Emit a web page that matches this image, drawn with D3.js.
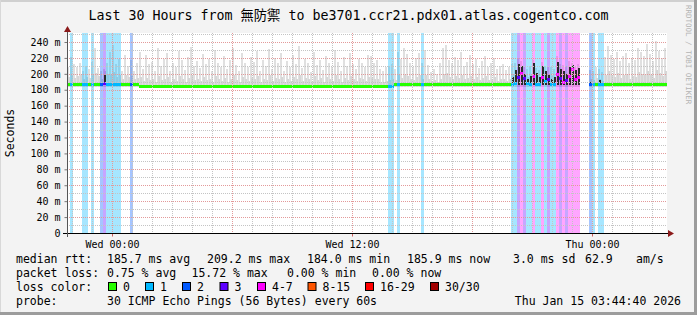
<!DOCTYPE html>
<html>
<head>
<meta charset="utf-8">
<script src="https://cdn.jsdelivr.net/npm/d3@7"></script>
<style>
  body { margin: 0; background: #f3f3f3; }
  svg { display: block; }
  text { font-family: "DejaVu Sans Mono", "Noto Sans CJK TC", monospace; fill: #000; }
</style>
</head>
<body>
<div id="chart"></div>
<script>
'use strict'

// ---- data ----
const title = "Last 30 Hours from 無防禦 to be3701.ccr21.pdx01.atlas.cogentco.com"
const timeStart = new Date(2026, 0, 13, 21, 45)
const timeEnd = new Date(2026, 0, 15, 3, 45)
const slotMinutes = 9          // one value every 9 minutes, 200 slots
const rttMin = 184.0

const yTicks = [0, 20, 40, 60, 80, 100, 120, 140, 160, 180, 200, 220, 240]
const yMinorTicks = [10, 30, 50, 70, 90, 110, 130, 150, 170, 190, 210, 230, 250]

// median rtt (ms) per slot
const medianRtt = [
  187,187,187,187,187,187,187,187,187,187,
  187,187,188,187,187,187,187,187,187,187,
  187,187,187,187,184.5,184.5,184.5,184.5,184.5,184.5,
  184.5,184.5,184.5,184.5,184.5,184.5,184.5,184.5,184.5,184.5,
  184.5,184.5,184.5,184.5,184.5,184.5,184.5,184.5,184.5,184.5,
  184.5,184.5,184.5,184.5,184.5,184.5,184.5,184.5,184.5,184.5,
  184.5,184.5,184.5,184.5,184.5,184.5,184.5,184.5,184.5,184.5,
  184.5,184.5,184.5,184.5,184.5,184.5,184.5,184.5,184.5,184.5,
  184.5,184.5,184.5,184.5,184.5,184.5,184.5,184.5,184.5,184.5,
  184.5,184.5,184.5,184.5,184.5,184.5,184.5,184.5,184.5,184.5,
  184.5,184.5,184.5,184.5,184.5,184.5,184.5,184.5,184.5,186.5,
  186.5,186.5,186.5,186.5,186.5,186.5,186.5,186.5,186.5,186.5,
  186.5,186.5,186.5,186.5,186.5,186.5,186.5,186.5,186.5,186.5,
  186.5,186.5,186.5,186.5,186.5,186.5,186.5,186.5,186.5,186.5,
  186.5,186.5,186.5,186.5,186.5,186.5,186.5,186.5,187,188,
  196,201,194,188,187,197,187,186,195,190,
  193,187,186,199,194,189,192,197,205,193,
  196,null,null,null,187,186,186,186,186,186,
  186,186,186,186,186,186,186,186,186,186,
  186,186,186,186,186,186,186,186,186,186
]

// top of the light smoke (max ping, ms) per slot
const smokeMax = [
  209,221,212,208,214,203,210,206,215,232,207,203,206,214,228,236,212,219,204,224,210,218,203,213,
  227,206,224,212,215,204,232,210,219,226,203,214,208,229,217,205,221,234,210,216,
  207,225,212,219,203,230,214,209,222,206,218,233,211,204,226,213,208,221,215,229,
  204,217,210,231,206,220,213,226,203,216,209,224,212,235,207,219,214,202,227,211,
  218,205,223,213,208,230,215,204,221,210,226,212,206,219,214,209,224,
  222,214,218,206,204,208,210,212,206,228,219,233,225,214,209,220,226,213,230,211,
  202,206,200,214,232,236,218,213,221,217,228,210,215,224,212,219,207,216,222,209,
  214,220,206,210,212,205,209,
  212,214,220,216,208,206,210,218,207,205,215,210,209,208,206,222,212,211,210,216,214,209,212,
  null,null,null,
  205,203,208,206,202,221,235,224,219,228,216,223,226,214,220,218,232,227,222,238,225,216,241,229,220,233
]

// top of the denser grey smoke per slot
const smokeMid = [
  196,199,195,197,198,194,196,195,199,201,197,194,203,200,198,202,196,199,194,198,196,197,193,195,
  196,191,195,192,193,190,197,192,194,196,190,193,191,197,194,190,195,198,192,193,
  191,196,192,194,190,197,193,191,195,190,194,198,192,190,196,193,191,195,193,197,
  190,194,192,198,191,195,193,196,190,194,191,196,193,199,191,195,193,190,197,192,
  195,190,196,193,191,198,194,190,195,192,197,193,191,195,193,191,196,
  195,193,194,190,190,191,192,193,192,198,195,199,197,194,192,196,198,194,199,193,
  191,192,190,194,200,201,196,194,197,195,199,193,195,197,193,196,192,195,197,192,
  194,196,191,193,194,191,193,
  200,203,207,205,198,196,199,206,197,195,204,199,198,197,196,210,201,200,199,205,203,198,201,
  null,null,null,
  193,192,195,194,191,198,203,199,196,201,195,198,200,194,197,196,202,200,198,204,199,195,205,201,197,203
]

// dark smoke (many pings spread out): [slot, top ms]
const smokeDark = [
  [12, 199], [148, 196], [149, 205], [150, 212], [151, 210], [152, 200], [153, 194], [154, 197],
  [155, 213], [156, 201], [157, 196], [158, 210], [159, 204], [160, 198], [161, 193], [162, 196],
  [163, 215], [164, 206], [165, 203], [166, 200], [167, 209], [168, 211], [169, 205], [170, 207],
  [174, 190], [177, 192]
]

// packet loss: [slot, lost pings of 30]
const lossSlots = [
  [1, 1], [5, 1], [6, 1], [8, 1], [11, 2], [12, 3], [13, 1], [14, 1], [15, 1], [16, 1], [17, 1], [21, 2],
  [107, 1], [108, 1], [110, 1], [118, 1],
  [148, 1], [149, 1], [150, 3], [151, 5], [152, 3], [153, 1], [154, 1], [155, 4], [156, 1], [157, 1],
  [158, 5], [159, 1], [160, 3], [161, 1], [162, 1], [163, 5], [164, 3], [165, 5], [166, 3], [167, 5],
  [168, 6], [169, 5], [170, 4],
  [174, 2], [175, 1], [177, 1], [178, 1]
]

const lossLabels = ["0", "1", "2", "3", "4-7", "8-15", "16-29", "30/30"]
const lossColors = ["#26ff00", "#00b8ff", "#0059ff", "#5e00ff", "#ff00ff", "#ff5500", "#ff0000", "#a10000"]

const rttStats = ["185.7 ms avg", "209.2 ms max", "184.0 ms min", "185.9 ms now", "3.0 ms sd", "62.9", "am/s"]
const lossStats = ["0.75 % avg", "15.72 % max", "0.00 % min", "0.00 % now"]
const probeText = "30 ICMP Echo Pings (56 Bytes) every 60s"
const stampText = "Thu Jan 15 03:44:40 2026"

// ---- layout ----
const width = 697, height = 315
const plot = {left: 67, right: 667, top: 33, bottom: 233}

const svg = d3.select("#chart").append("svg")
  .attr("width", width).attr("height", height)

// frame
svg.append("rect").attr("width", width).attr("height", height).attr("fill", "#f3f3f3")
svg.append("rect").attr("x", 0).attr("y", 0).attr("width", width).attr("height", 2).attr("fill", "#d0d0d0")
svg.append("rect").attr("x", 0).attr("y", 0).attr("width", 1).attr("height", height).attr("fill", "#d8d8d8")
svg.append("rect").attr("x", width - 3).attr("y", 0).attr("width", 3).attr("height", height).attr("fill", "#9c9c9c")
svg.append("rect").attr("x", 0).attr("y", height - 3).attr("width", width).attr("height", 3).attr("fill", "#9c9c9c")

// plot background
svg.append("rect")
  .attr("x", plot.left).attr("y", plot.top)
  .attr("width", plot.right - plot.left).attr("height", plot.bottom - plot.top)
  .attr("fill", "#ffffff")

const x = d3.scaleTime().domain([timeStart, timeEnd]).range([plot.left, plot.right])
const y = d3.scaleLinear().domain([0, 251.3]).range([plot.bottom, plot.top])

const slotTime = (i) => new Date(timeStart.getTime() + i * slotMinutes * 60000)
const sx = (i) => x(slotTime(i))
const sw = (i) => x(slotTime(i + 1)) - x(slotTime(i))

function lossIndex(n) {
  if (n <= 3) return n
  if (n <= 7) return 4
  if (n <= 15) return 5
  if (n <= 29) return 6
  return 7
}
const lossBySlot = new Map(lossSlots)

const slots = d3.range(medianRtt.length).filter(i => medianRtt[i] !== null)

// light smoke, thin spikes
svg.append("g").attr("shape-rendering", "crispEdges").selectAll("rect")
  .data(slots)
  .enter().append("rect")
  .attr("x", i => sx(i)).attr("width", i => sw(i) - 1)
  .attr("y", i => y(smokeMax[i]))
  .attr("height", i => y(rttMin) - y(smokeMax[i]))
  .attr("fill", "#e0e0e0")

// denser smoke near the median
svg.append("g").attr("shape-rendering", "crispEdges").selectAll("rect")
  .data(slots)
  .enter().append("rect")
  .attr("x", i => sx(i) + 1).attr("width", i => sw(i) - 1)
  .attr("y", i => y(smokeMid[i]))
  .attr("height", i => y(rttMin) - y(smokeMid[i]))
  .attr("fill", "#d6d6d6")

// loss background bars
svg.append("g").attr("shape-rendering", "crispEdges").selectAll("rect")
  .data(lossSlots)
  .enter().append("rect")
  .attr("x", d => sx(d[0])).attr("width", d => sw(d[0]))
  .attr("y", plot.top).attr("height", plot.bottom - plot.top)
  .attr("fill", d => lossColors[lossIndex(d[1])])
  .attr("fill-opacity", 0.35)

// dark smoke
svg.append("g").attr("shape-rendering", "crispEdges").selectAll("rect")
  .data(smokeDark)
  .enter().append("rect")
  .attr("x", d => sx(d[0]) + 0.5).attr("width", d => sw(d[0]) - 1)
  .attr("y", d => y(d[1]))
  .attr("height", d => y(rttMin + 2) - y(d[1]))
  .attr("fill", "#2a2a2a")

// median line coloured by loss
svg.append("g").attr("shape-rendering", "crispEdges").selectAll("rect")
  .data(slots)
  .enter().append("rect")
  .attr("x", i => sx(i)).attr("width", i => sw(i) + 0.01)
  .attr("y", i => y(medianRtt[i]) - 1.5)
  .attr("height", 3)
  .attr("fill", i => lossColors[lossIndex(lossBySlot.get(i) || 0)])

// grid (drawn over the data, dotted)
const grid = svg.append("g").attr("shape-rendering", "crispEdges")
const hours = d3.timeHour.every(1).range(timeStart, timeEnd)
grid.selectAll(".vminor")
  .data(hours.filter(t => t.getHours() % 6 !== 0))
  .enter().append("line")
  .attr("x1", d => Math.round(x(d)) + 0.5).attr("x2", d => Math.round(x(d)) + 0.5)
  .attr("y1", plot.top).attr("y2", plot.bottom)
  .attr("stroke", "#c4c4c4").attr("stroke-dasharray", "1,1")
grid.selectAll(".hminor")
  .data(yMinorTicks)
  .enter().append("line")
  .attr("x1", plot.left).attr("x2", plot.right)
  .attr("y1", d => Math.round(y(d)) + 0.5).attr("y2", d => Math.round(y(d)) + 0.5)
  .attr("stroke", "#c4c4c4").attr("stroke-dasharray", "1,1")
grid.selectAll(".vmajor")
  .data(hours.filter(t => t.getHours() % 6 === 0))
  .enter().append("line")
  .attr("x1", d => Math.round(x(d)) + 0.5).attr("x2", d => Math.round(x(d)) + 0.5)
  .attr("y1", plot.top).attr("y2", plot.bottom)
  .attr("stroke", "#e39a9a").attr("stroke-dasharray", "1,1")
grid.selectAll(".hmajor")
  .data(yTicks.filter(d => d > 0))
  .enter().append("line")
  .attr("x1", plot.left).attr("x2", plot.right)
  .attr("y1", d => Math.round(y(d)) + 0.5).attr("y2", d => Math.round(y(d)) + 0.5)
  .attr("stroke", "#e39a9a").attr("stroke-dasharray", "1,1")

// axes
const yAxis = d3.axisLeft(y).tickValues(yTicks).tickFormat(d => d === 0 ? "0" : d + " m")
  .tickSize(3).tickPadding(4)
const gy = svg.append("g").attr("transform", "translate(" + (plot.left + 0.5) + ",0)").call(yAxis)
gy.select(".domain").remove()
gy.selectAll("line").attr("stroke", "#777")
gy.selectAll("text").style("font-family", "DejaVu Sans Mono").style("font-size", "10px")

const xAxis = d3.axisBottom(x)
  .tickValues(d3.timeHour.every(12).range(timeStart, timeEnd))
  .tickFormat(d3.timeFormat("%a %H:%M"))
  .tickSize(3).tickPadding(4)
const gx = svg.append("g").attr("transform", "translate(0," + (plot.bottom + 0.5) + ")").call(xAxis)
gx.select(".domain").remove()
gx.selectAll("line").attr("stroke", "#d06060")
gx.selectAll("text").style("font-family", "DejaVu Sans Mono").style("font-size", "10px")

// axis lines with arrows
svg.append("line")
  .attr("x1", plot.left - 4).attr("x2", plot.right + 2)
  .attr("y1", plot.bottom + 0.5).attr("y2", plot.bottom + 0.5)
  .attr("stroke", "#000")
svg.append("line")
  .attr("x1", plot.left + 0.5).attr("x2", plot.left + 0.5)
  .attr("y1", plot.bottom + 4).attr("y2", plot.top - 2)
  .attr("stroke", "#555")
svg.append("path")
  .attr("d", "M" + (plot.right + 1) + "," + (plot.bottom - 3) + "L" + (plot.right + 7) + "," + (plot.bottom + 0.5) + "L" + (plot.right + 1) + "," + (plot.bottom + 4) + "Z")
  .attr("fill", "#8b1a1a")
svg.append("path")
  .attr("d", "M" + (plot.left - 3) + "," + (plot.top - 1) + "L" + (plot.left + 0.5) + "," + (plot.top - 7) + "L" + (plot.left + 4) + "," + (plot.top - 1) + "Z")
  .attr("fill", "#8b1a1a")

// title and labels
svg.append("text")
  .attr("x", 348.5).attr("y", 20)
  .attr("text-anchor", "middle")
  .style("font-size", "13.3px")
  .text(title)

svg.append("text")
  .attr("transform", "translate(14,133) rotate(-90)")
  .attr("text-anchor", "middle")
  .style("font-size", "11.5px")
  .text("Seconds")

svg.append("text")
  .attr("transform", "translate(685.5,5) rotate(90)")
  .style("font-size", "7.5px")
  .style("fill", "#b4b4b4")
  .text("RRDTOOL / TOBI OETIKER")

// legend
const legendFont = "11.5px"
const rowY = [263, 277, 291, 305]
function legendText(xPos, yPos, s, anchor) {
  svg.append("text")
    .attr("x", xPos).attr("y", yPos)
    .attr("text-anchor", anchor || "start")
    .style("font-size", legendFont)
    .text(s)
}

legendText(16, rowY[0], "median rtt:")
const rttX = [107, 207, 307, 407, 513, 585, 636]
rttStats.forEach((s, i) => legendText(rttX[i], rowY[0], s))

legendText(16, rowY[1], "packet loss:")
const lossX = [107, 191.5, 287, 372]
lossStats.forEach((s, i) => legendText(lossX[i], rowY[1], s))

legendText(16, rowY[2], "loss color:")
const boxX = [108, 145, 182, 219.5, 257, 307.5, 365, 430]
lossLabels.forEach((s, i) => {
  svg.append("rect")
    .attr("x", boxX[i] + 0.5).attr("y", rowY[2] - 8.5)
    .attr("width", 8).attr("height", 8)
    .attr("fill", lossColors[i])
    .attr("stroke", "#000").attr("stroke-width", 1)
  legendText(boxX[i] + 15, rowY[2], s)
})

legendText(16, rowY[3], "probe:")
legendText(107, rowY[3], probeText)
legendText(681, rowY[3], stampText, "end")
</script>
</body>
</html>
